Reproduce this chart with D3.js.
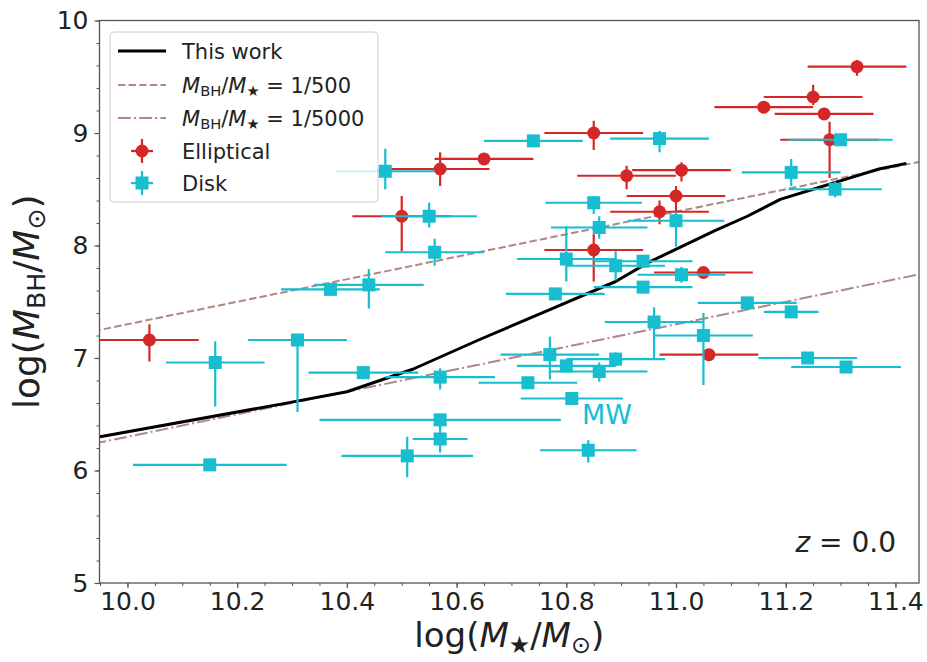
<!DOCTYPE html>
<html>
<head>
<meta charset="utf-8">
<script src="https://cdn.jsdelivr.net/npm/d3@7"></script>
<style>
  body { margin: 0; background: #fff; }
  svg { font-family: "DejaVu Sans", sans-serif; }
</style>
</head>
<body>
<div id="chart"></div>
<script>
// elliptical galaxies
var ell_x = [10.04, 10.50, 10.57, 10.65, 10.85, 10.91, 11.01, 11.00, 10.97, 10.85, 11.05, 11.06, 11.16, 11.25, 11.27, 11.33, 11.28];
var ell_y = [7.16, 8.26, 8.68, 8.77, 9.00, 8.62, 8.67, 8.44, 8.30, 7.96, 7.76, 7.03, 9.23, 9.32, 9.17, 9.59, 8.94];
var ell_xerr = [0.09, 0.09, 0.09, 0.09, 0.09, 0.09, 0.09, 0.09, 0.09, 0.09, 0.09, 0.09, 0.09, 0.09, 0.09, 0.09, 0.09];
var ell_yerr = [[0.19, 0.14], [0.31, 0.18], [0.15, 0.15], [0.05, 0.05], [0.15, 0.11], [0.12, 0.09], [0.10, 0.07],
                [0.15, 0.09], [0.11, 0.10], [0.28, 0.14], [0.05, 0.05], [0, 0], [0.05, 0.05], [0.07, 0.11],
                [0.05, 0.05], [0.08, 0.06], [0.34, 0.16]];

// disk galaxies
var disk_x = [10.47, 10.55, 10.56, 10.37, 10.44, 10.16, 10.31, 10.43, 10.15, 10.57, 10.57, 10.57, 10.51,
              10.78, 10.77, 10.80, 10.73, 10.81, 10.86, 10.89, 10.84, 10.96, 11.05, 11.13, 11.21, 11.24,
              11.31, 10.97, 10.85, 10.86, 11.00, 10.89, 10.94, 11.01, 10.94, 11.21, 11.30, 11.29, 10.74, 10.80];
var disk_y = [8.66, 8.26, 7.94, 7.61, 7.65, 6.96, 7.16, 6.87, 6.05, 6.83, 6.45, 6.28, 6.13,
              7.57, 7.03, 6.93, 6.78, 6.64, 6.88, 6.99, 6.18, 7.32, 7.20, 7.49, 7.41, 7.00,
              6.92, 8.95, 8.38, 8.16, 8.22, 7.82, 7.86, 7.74, 7.63, 8.65, 8.94, 8.50, 8.93, 7.88];
var disk_xerr = [0.09, 0.087, 0.09, 0.09, 0.10, 0.09, 0.09, 0.10, 0.14, 0.10, 0.22, 0.05, 0.12,
                 0.09, 0.09, 0.09, 0.09, 0.093, 0.088, 0.09, 0.088, 0.09, 0.09, 0.09, 0.05, 0.09,
                 0.10, 0.09, 0.088, 0.088, 0.088, 0.09, 0.09, 0.08, 0.09, 0.09, 0.095, 0.085, 0.09, 0.09];
var disk_yerr = [[0.16, 0.20], [0.10, 0.12], [0.12, 0.12], [0.03, 0.03], [0.21, 0.14], [0.39, 0.19], [0.64, 0.05],
                 [0.04, 0.04], [0.05, 0.05], [0.11, 0.08], [0.04, 0.04], [0.12, 0.12], [0.19, 0.17],
                 [0.03, 0.03], [0.22, 0.16], [0.04, 0.04], [0.05, 0.05], [0.03, 0.03], [0.09, 0.08], [0.06, 0.06],
                 [0.11, 0.09], [0.33, 0.13], [0.44, 0.20], [0.04, 0.04], [0.04, 0.04], [0.03, 0.03],
                 [0.03, 0.03], [0.12, 0.07], [0.10, 0.06], [0.10, 0.10], [0.23, 0.08], [0.13, 0.13], [0.05, 0.05],
                 [0.07, 0.07], [0.04, 0.04], [0.12, 0.12], [0.04, 0.04], [0.07, 0.07], [0.04, 0.04], [0.20, 0.29]];

// model relation ("This work")
var model_x = [9.95, 10.28, 10.40, 10.52, 10.64, 10.77, 10.89, 10.95, 11.01, 11.07, 11.13, 11.19, 11.25, 11.31, 11.37, 11.42];
var model_y = [6.30, 6.59, 6.70, 6.90, 7.16, 7.43, 7.68, 7.85, 7.99, 8.13, 8.26, 8.41, 8.50, 8.59, 8.68, 8.73];

// constant mass ratio lines, end points
var ratio_x = [9.9, 11.5];
var ratio500_y = [7.20, 8.80];
var ratio5000_y = [6.20, 7.80];

var x_ticks = [10.0, 10.2, 10.4, 10.6, 10.8, 11.0, 11.2, 11.4];
var y_ticks = [5, 6, 7, 8, 9, 10];

var red = "#d62728";
var cyan = "#17becf";
var brown = "#8c564b";

var width = 927, height = 662;
var pl = 99.5, pr = 919, pt = 20.5, pb = 583;

var svg = d3.select("#chart").append("svg")
    .attr("width", width)
    .attr("height", height);

var x = d3.scaleLinear().domain([9.949, 11.443]).range([pl, pr]);
var y = d3.scaleLinear().domain([5, 10]).range([pb, pt]);

svg.append("defs").append("clipPath").attr("id", "plot-clip")
    .append("rect").attr("x", pl).attr("y", pt)
    .attr("width", pr - pl).attr("height", pb - pt);

// axes
var xMinor = d3.range(9.95, 11.44, 0.05).map(d => Math.round(d * 100) / 100);
var yMinor = d3.range(5, 10.01, 0.2).map(d => Math.round(d * 10) / 10);

svg.append("g").attr("transform", "translate(0," + pb + ")")
    .call(d3.axisBottom(x).tickValues(xMinor).tickSize(3).tickFormat(""))
    .call(g => g.select(".domain").remove())
    .selectAll("line").attr("stroke", "#555");
svg.append("g").attr("transform", "translate(" + pl + ",0)")
    .call(d3.axisLeft(y).tickValues(yMinor).tickSize(3).tickFormat(""))
    .call(g => g.select(".domain").remove())
    .selectAll("line").attr("stroke", "#555");

var xAxis = svg.append("g").attr("transform", "translate(0," + pb + ")")
    .call(d3.axisBottom(x).tickValues(x_ticks).tickSize(5).tickPadding(4).tickFormat(d3.format(".1f")));
var yAxis = svg.append("g").attr("transform", "translate(" + pl + ",0)")
    .call(d3.axisLeft(y).tickValues(y_ticks).tickSize(5).tickPadding(6).tickFormat(d3.format("d")));

[xAxis, yAxis].forEach(function(a){
    a.select(".domain").remove();
    a.selectAll("line").attr("stroke", "#555").attr("stroke-width", 1.2);
    a.selectAll("text").attr("font-size", 25).attr("fill", "#222")
        .attr("font-family", "DejaVu Sans");
});

svg.append("rect")
    .attr("x", pl).attr("y", pt)
    .attr("width", pr - pl).attr("height", pb - pt)
    .attr("fill", "none").attr("stroke", "#555").attr("stroke-width", 1.3);

var plot = svg.append("g").attr("clip-path", "url(#plot-clip)");

// ratio lines
plot.append("path")
    .attr("d", d3.line()([[x(ratio_x[0]), y(ratio500_y[0])], [x(ratio_x[1]), y(ratio500_y[1])]]))
    .attr("stroke", brown).attr("stroke-opacity", 0.7).attr("stroke-width", 2)
    .attr("stroke-dasharray", "7.4,3.2").attr("fill", "none");
plot.append("path")
    .attr("d", d3.line()([[x(ratio_x[0]), y(ratio5000_y[0])], [x(ratio_x[1]), y(ratio5000_y[1])]]))
    .attr("stroke", brown).attr("stroke-opacity", 0.7).attr("stroke-width", 2)
    .attr("stroke-dasharray", "12.8,3.2,2,3.2").attr("fill", "none");

// model
plot.append("path")
    .datum(model_x.map((d, i) => [d, model_y[i]]))
    .attr("d", d3.line().x(d => x(d[0])).y(d => y(d[1])))
    .attr("stroke", "#000").attr("stroke-width", 3).attr("fill", "none")
    .attr("stroke-linejoin", "round");

function drawErrorbars(xs, ys, xerr, yerr, color, shape){
    var pts = xs.map((d, i) => ({x: d, y: ys[i], xe: xerr[i], ylo: yerr[i][0], yhi: yerr[i][1]}));
    var g = plot.append("g");
    g.selectAll(".xe").data(pts).enter().append("line")
        .attr("x1", d => x(d.x - d.xe)).attr("x2", d => x(d.x + d.xe))
        .attr("y1", d => y(d.y)).attr("y2", d => y(d.y))
        .attr("stroke", color).attr("stroke-width", 2.2);
    g.selectAll(".ye").data(pts).enter().append("line")
        .attr("x1", d => x(d.x)).attr("x2", d => x(d.x))
        .attr("y1", d => y(d.y - d.ylo)).attr("y2", d => y(d.y + d.yhi))
        .attr("stroke", color).attr("stroke-width", 2.2);
    if(shape == "circle"){
        g.selectAll("circle").data(pts).enter().append("circle")
            .attr("cx", d => x(d.x)).attr("cy", d => y(d.y)).attr("r", 6.5)
            .attr("fill", color);
    } else {
        g.selectAll("rect").data(pts).enter().append("rect")
            .attr("x", d => x(d.x) - 6.5).attr("y", d => y(d.y) - 6.5)
            .attr("width", 13).attr("height", 13)
            .attr("fill", color);
    }
}

drawErrorbars(ell_x, ell_y, ell_xerr, ell_yerr, red, "circle");
drawErrorbars(disk_x, disk_y, disk_xerr, disk_yerr, cyan, "square");

// rich text helper for mathtext-like labels
function mathText(sel, parts, size){
    var shift = 0;
    parts.forEach(function(p){
        var ts = sel.append("tspan").text(p.t);
        var target = p.sub ? size * 0.18 : 0;
        if(target - shift != 0) ts.attr("dy", target - shift);
        shift = target;
        if(p.sub) ts.attr("font-size", size * 0.7);
        if(p.it) ts.attr("font-style", "italic");
    });
}

svg.append("text")
    .attr("x", 582).attr("y", 424)
    .attr("font-size", 27).attr("fill", cyan)
    .text("MW");

var zt = svg.append("text")
    .attr("x", 896).attr("y", 552)
    .attr("text-anchor", "end")
    .attr("font-size", 28).attr("fill", "#222");
mathText(zt, [{t: "z", it: true}, {t: " = 0.0"}], 28);

// axis labels
var xl = svg.append("text")
    .attr("x", (pl + pr) / 2).attr("y", 647)
    .attr("text-anchor", "middle").attr("font-size", 34).attr("fill", "#222");
mathText(xl, [{t: "log("}, {t: "M", it: true}, {t: "★", sub: true}, {t: "/"}, {t: "M", it: true},
              {t: "⊙", sub: true}, {t: ")"}], 34);

var yl = svg.append("text")
    .attr("transform", "translate(39," + ((pt + pb) / 2) + ") rotate(-90)")
    .attr("text-anchor", "middle").attr("font-size", 36).attr("fill", "#222");
mathText(yl, [{t: "log("}, {t: "M", it: true}, {t: "BH", sub: true}, {t: "/"}, {t: "M", it: true},
              {t: "⊙", sub: true}, {t: ")"}], 36);

// legend
var legend = svg.append("g");
legend.append("rect")
    .attr("x", 110).attr("y", 32).attr("width", 268).attr("height", 170)
    .attr("rx", 4).attr("fill", "#fff").attr("fill-opacity", 0.8)
    .attr("stroke", "#ccc").attr("stroke-width", 1);

var rows = [51, 85, 118, 151, 183];
legend.append("line").attr("x1", 118).attr("x2", 166).attr("y1", rows[0]).attr("y2", rows[0])
    .attr("stroke", "#000").attr("stroke-width", 3);
legend.append("line").attr("x1", 118).attr("x2", 166).attr("y1", rows[1]).attr("y2", rows[1])
    .attr("stroke", brown).attr("stroke-opacity", 0.7).attr("stroke-width", 2).attr("stroke-dasharray", "7.4,3.2");
legend.append("line").attr("x1", 118).attr("x2", 166).attr("y1", rows[2]).attr("y2", rows[2])
    .attr("stroke", brown).attr("stroke-opacity", 0.7).attr("stroke-width", 2).attr("stroke-dasharray", "12.8,3.2,2,3.2");

[[rows[3], red, "circle"], [rows[4], cyan, "square"]].forEach(function(r){
    legend.append("line").attr("x1", 131).attr("x2", 153).attr("y1", r[0]).attr("y2", r[0])
        .attr("stroke", r[1]).attr("stroke-width", 2.2);
    legend.append("line").attr("x1", 142).attr("x2", 142).attr("y1", r[0] - 12).attr("y2", r[0] + 12)
        .attr("stroke", r[1]).attr("stroke-width", 2.2);
    if(r[2] == "circle"){
        legend.append("circle").attr("cx", 142).attr("cy", r[0]).attr("r", 6.5).attr("fill", r[1]);
    } else {
        legend.append("rect").attr("x", 135.5).attr("y", r[0] - 6.5).attr("width", 13).attr("height", 13).attr("fill", r[1]);
    }
});

var labels = [
    [{t: "This work"}],
    [{t: "M", it: true}, {t: "BH", sub: true}, {t: "/"}, {t: "M", it: true}, {t: "★", sub: true}, {t: " = 1/500"}],
    [{t: "M", it: true}, {t: "BH", sub: true}, {t: "/"}, {t: "M", it: true}, {t: "★", sub: true}, {t: " = 1/5000"}],
    [{t: "Elliptical"}],
    [{t: "Disk"}]
];
labels.forEach(function(parts, i){
    var t = legend.append("text").attr("x", 182).attr("y", rows[i] + 7.5)
        .attr("font-size", 21).attr("fill", "#222");
    mathText(t, parts, 21);
});
</script>
</body>
</html>
